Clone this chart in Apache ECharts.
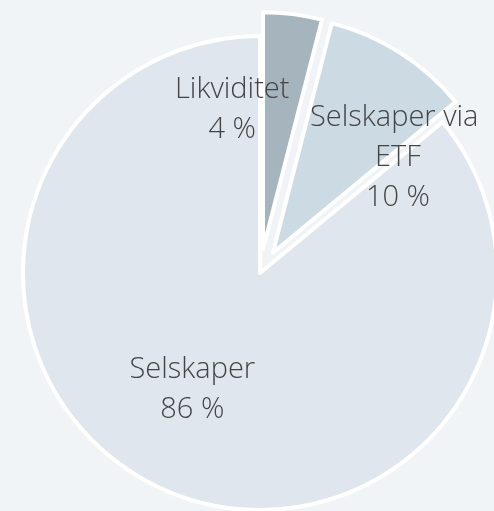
<!DOCTYPE html>
<html>
<head>
<meta charset="utf-8">
<script src="https://cdn.jsdelivr.net/npm/echarts@6/dist/echarts.min.js"></script>
<style>
  html, body { margin: 0; padding: 0; background: #f0f4f7; }
  #chart { width: 494px; height: 511px; }
</style>
</head>
<body>
<div id="chart"></div>
<script>
// data
var categories = ["Likviditet", "Selskaper via ETF", "Selskaper"];
var shares = [4, 10, 86];
var picked = [true, true, false];

// style per slice
var sliceColors = ["#a6b4bd", "#ccdae3", "#dfe6ed"];
var labelShift = [[-46, -19], [60, 8], [-16, 7]];

var chart = echarts.init(document.getElementById("chart"));

var seriesData = [];
for (var i = 0; i < categories.length; i++) {
  seriesData.push({
    name: categories[i],
    value: shares[i],
    selected: picked[i],
    itemStyle: { color: sliceColors[i] },
    select: { itemStyle: { color: sliceColors[i] } },
    label: i === 1 ? { width: 190, overflow: "break" } : {}
  });
}

var option = {
  backgroundColor: "#f0f4f7",
  animation: false,
  series: [
    {
      type: "pie",
      center: [260, 273],
      radius: 237,
      startAngle: 90,
      clockwise: true,
      selectedMode: "multiple",
      selectedOffset: 24,
      silent: true,
      itemStyle: {
        borderColor: "#ffffff",
        borderWidth: 4
      },
      label: {
        show: true,
        position: "inner",
        formatter: function (p) {
          return p.name + "\n" + p.value + " %";
        },
        fontFamily: "'Open Sans', Lato, sans-serif",
        fontWeight: 300,
        fontSize: 29,
        lineHeight: 40,
        color: "#444444",
        align: "center"
      },
      labelLayout: function (params) {
        var s = labelShift[params.dataIndex];
        return { dx: s[0], dy: s[1] };
      },
      data: seriesData
    }
  ]
};

chart.setOption(option);
</script>
</body>
</html>
